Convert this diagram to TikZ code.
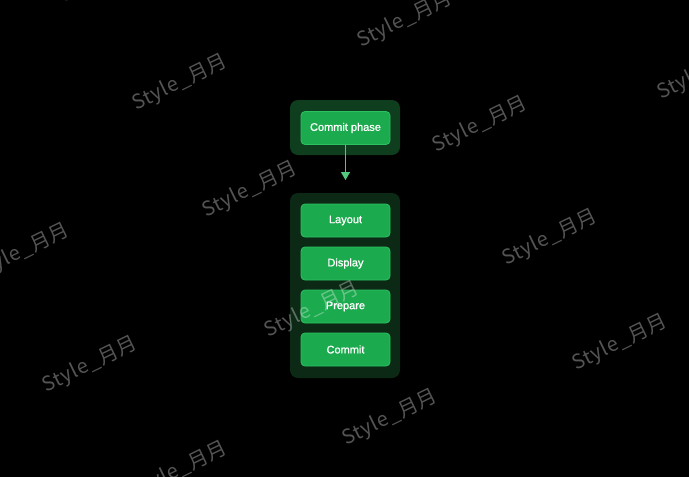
\documentclass[tikz,border=0pt]{standalone}
\usepackage{fontspec}
\setmainfont{Liberation Sans}
\newfontfamily\boxfont[FakeBold=1.0]{Liberation Sans}
\newfontfamily\wmfont[LetterSpace=4]{Noto Sans CJK SC}
\usetikzlibrary{arrows.meta}
\definecolor{outerA}{HTML}{0F3E1F}
\definecolor{outerB}{HTML}{0B2914}
\definecolor{innerfill}{HTML}{1CAA4E}
\definecolor{innerline}{HTML}{2CC262}
\definecolor{arrowc}{HTML}{52C97F}
\tikzset{
  groupbox/.style={rounded corners=8pt},
  stepbox/.style={draw=innerline, line width=0.8pt, fill=innerfill, rounded corners=4pt,
    minimum width=89pt, minimum height=33pt, inner sep=0pt, text=white,
    font=\boxfont\fontsize{11}{13}\selectfont},
  wm/.style={rotate=26, text=white, opacity=0.33, inner sep=0pt,
    font=\wmfont\fontsize{20}{22}\selectfont},
  flow/.style={draw=arrowc, line width=1.4pt, -{Triangle[length=8pt,width=9pt]}}
}
\begin{document}
\begin{tikzpicture}[x=1pt,y=-1pt]
\useasboundingbox (0,0) rectangle (689,477);
\fill[black] (0,0) rectangle (689,477);
% groups
\fill[outerA, groupbox] (290,100) rectangle (400,155);
\fill[outerB, groupbox] (290,193) rectangle (400,378);
\coordinate (grpTop) at (345.5,193);
% steps
\node[stepbox] (cp) at (345.5,128) {Commit phase};
\node[stepbox] (layout) at (345.5,220.5) {Layout};
\node[stepbox] (display) at (345.5,263.5) {Display};
\node[stepbox] (prepare) at (345.5,306.5) {Prepare};
\node[stepbox] (commit) at (345.5,349.5) {Commit};
\draw[flow, shorten >=13pt] (cp.south) -- (grpTop);
% watermarks
\node[wm] (w1) at (180,83) {Style\_月月};
\node[wm] (w2) at (405,20) {Style\_月月};
\node[wm] (w3) at (480,125) {Style\_月月};
\node[wm] (w4) at (250,190) {Style\_月月};
\node[wm] (w5) at (22,252) {Style\_月月};
\node[wm] (w6) at (550,238) {Style\_月月};
\node[wm] (w7) at (312,310) {Style\_月月};
\node[wm] (w8) at (90,365) {Style\_月月};
\node[wm] (w9) at (620,343) {Style\_月月};
\node[wm] (w10) at (390,418) {Style\_月月};
\node[wm] (w11) at (180,470) {Style\_月月};
\node[wm] (w12) at (705,72) {Style\_月月};
\node[wm] (w13) at (108,-25) {Style\_月月};
\end{tikzpicture}
\end{document}
